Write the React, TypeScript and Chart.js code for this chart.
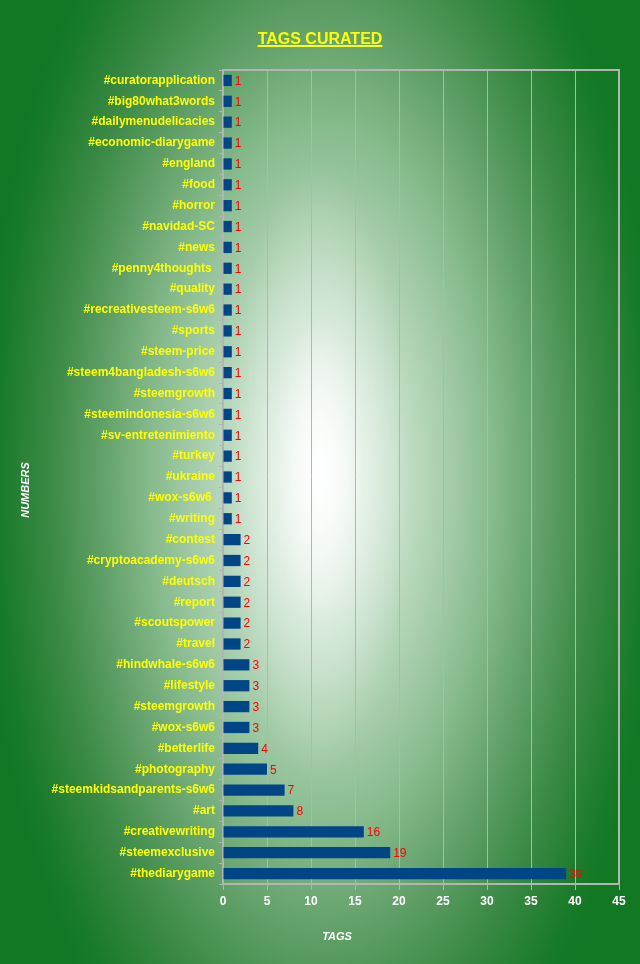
import React, { useEffect, useRef } from "react";
import { Chart, registerables } from "chart.js";

Chart.register(...registerables);

const categories: string[] = [
  "#curatorapplication",
  "#big80what3words",
  "#dailymenudelicacies",
  "#economic-diarygame",
  "#england",
  "#food",
  "#horror",
  "#navidad-SC",
  "#news",
  "#penny4thoughts ",
  "#quality",
  "#recreativesteem-s6w6",
  "#sports",
  "#steem-price",
  "#steem4bangladesh-s6w6",
  "#steemgrowth",
  "#steemindonesia-s6w6",
  "#sv-entretenimiento",
  "#turkey",
  "#ukraine",
  "#wox-s6w6 ",
  "#writing",
  "#contest",
  "#cryptoacademy-s6w6",
  "#deutsch",
  "#report",
  "#scoutspower",
  "#travel",
  "#hindwhale-s6w6",
  "#lifestyle",
  "#steemgrowth",
  "#wox-s6w6",
  "#betterlife",
  "#photography",
  "#steemkidsandparents-s6w6",
  "#art",
  "#creativewriting",
  "#steemexclusive",
  "#thediarygame",
];

const values: number[] = [
  1, 1, 1, 1, 1, 1, 1, 1, 1, 1, 1, 1, 1, 1, 1, 1, 1, 1, 1, 1, 1, 1,
  2, 2, 2, 2, 2, 2,
  3, 3, 3, 3,
  4, 5, 7, 8, 16, 19, 39,
];

const xTicks: number[] = [0, 5, 10, 15, 20, 25, 30, 35, 40, 45];

const chartTitle = "TAGS CURATED";
const xTitle = "TAGS";
const yTitle = "NUMBERS";

const FONT = "'Liberation Sans', Arial, sans-serif";

const bgPlugin = {
  id: "bgPlugin",
  beforeDraw(chart: any) {
    const { ctx, width, height } = chart;
    ctx.save();
    ctx.fillStyle = "#127824";
    ctx.fillRect(0, 0, width, height);

    // outer elliptical gradient
    const cx = 322;
    const cy = 478;
    const r = 345;
    const sy = 2.05;
    ctx.save();
    ctx.translate(cx, cy);
    ctx.scale(1, sy);
    const g = ctx.createRadialGradient(0, 0, 0, 0, 0, r);
    g.addColorStop(0, "#eef6ef");
    g.addColorStop(0.15, "#d6e9d9");
    g.addColorStop(0.35, "#a9cfae");
    g.addColorStop(0.5, "#86ba8c");
    g.addColorStop(0.65, "#5f9f66");
    g.addColorStop(0.8, "#388843");
    g.addColorStop(0.95, "#167a27");
    g.addColorStop(1, "#127824");
    ctx.fillStyle = g;
    ctx.fillRect(-cx, -cy / sy, width, height / sy);
    ctx.restore();

    // soft tall white core
    const hx = 319;
    const hy = 472;
    const hr = 90;
    const hsy = 3.4;
    ctx.save();
    ctx.translate(hx, hy);
    ctx.scale(1, hsy);
    const h = ctx.createRadialGradient(0, 0, 0, 0, 0, hr);
    h.addColorStop(0, "rgba(255,255,255,1)");
    h.addColorStop(0.2, "rgba(255,255,255,0.75)");
    h.addColorStop(0.5, "rgba(255,255,255,0.3)");
    h.addColorStop(1, "rgba(255,255,255,0)");
    ctx.fillStyle = h;
    ctx.fillRect(-hr, -hr, hr * 2, hr * 2);
    ctx.restore();

    ctx.restore();
  },
};

const framePlugin = {
  id: "framePlugin",
  beforeDatasetsDraw(chart: any) {
    const { ctx, chartArea } = chart;
    ctx.save();
    ctx.strokeStyle = "#b4b4b4";
    ctx.lineWidth = 2;
    ctx.beginPath();
    ctx.moveTo(chartArea.left, chartArea.top);
    ctx.lineTo(chartArea.right, chartArea.top);
    ctx.lineTo(chartArea.right, chartArea.bottom);
    ctx.stroke();
    ctx.restore();
  },
  afterDatasetsDraw(chart: any) {
    const { ctx } = chart;
    const meta = chart.getDatasetMeta(0);
    const data = chart.data.datasets[0].data as number[];
    ctx.save();
    ctx.fillStyle = "#ff0000";
    ctx.font = `12px ${FONT}`;
    ctx.textAlign = "left";
    ctx.textBaseline = "middle";
    meta.data.forEach((bar: any, i: number) => {
      ctx.fillText(String(data[i]), bar.x + 3, bar.y + 1);
    });
    ctx.restore();
  },
  afterDraw(chart: any) {
    const { ctx, width } = chart;
    ctx.save();
    // chart title
    ctx.font = `bold 16px ${FONT}`;
    ctx.fillStyle = "#ffff00";
    ctx.textAlign = "center";
    ctx.textBaseline = "alphabetic";
    const cx = width / 2;
    ctx.fillText(chartTitle, cx, 44);
    const w = ctx.measureText(chartTitle).width;
    ctx.fillRect(cx - w / 2, 45, w, 2);
    // axis titles
    ctx.fillStyle = "#ffffff";
    ctx.font = `italic bold 11px ${FONT}`;
    ctx.textBaseline = "middle";
    ctx.fillText(xTitle, 337, 937);
    ctx.translate(26, 490);
    ctx.rotate(-Math.PI / 2);
    ctx.fillText(yTitle, 0, 0);
    ctx.restore();
  },
};

export default function App() {
  const ref = useRef<HTMLCanvasElement | null>(null);

  useEffect(() => {
    if (!ref.current) return;
    Chart.defaults.font.family = FONT;
    const chart = new Chart(ref.current, {
      type: "bar",
      data: {
        labels: categories,
        datasets: [
          {
            data: values,
            backgroundColor: "#004586",
            borderColor: "#004586",
            borderWidth: 0,
            categoryPercentage: 1,
            barPercentage: 0.54,
          },
        ],
      },
      options: {
        indexAxis: "y",
        animation: false,
        responsive: false,
        layout: { padding: { top: 70, left: 0, right: 21, bottom: 0 } },
        plugins: {
          legend: { display: false },
          tooltip: { enabled: false },
          title: { display: false },
        },
        scales: {
          x: {
            type: "linear",
            min: 0,
            max: 45,
            afterBuildTicks(scale: any) {
              scale.ticks = xTicks.map((v) => ({ value: v }));
            },
            afterFit(scale: any) {
              scale.height = 80;
            },
            ticks: {
              color: "#ffffff",
              font: { size: 12, weight: "bold", family: FONT },
              padding: 4,
            },
            grid: {
              color: "#b4b4b4",
              lineWidth: 1,
              drawTicks: true,
              tickLength: 6,
              tickColor: "#b4b4b4",
            },
            border: { display: true, color: "#b4b4b4", width: 2 },
          },
          y: {
            type: "category",
            afterFit(scale: any) {
              scale.width = 223;
            },
            ticks: {
              color: "#ffff00",
              font: { size: 12, weight: "bold", family: FONT },
              padding: 4,
              autoSkip: false,
            },
            grid: {
              drawOnChartArea: false,
              drawTicks: true,
              tickLength: 4,
              color: "#b4b4b4",
              tickColor: "#b4b4b4",
            },
            border: { display: true, color: "#b4b4b4", width: 2 },
          },
        },
      },
      plugins: [bgPlugin, framePlugin],
    });
    return () => chart.destroy();
  }, []);

  return (
    <div style={{ position: "absolute", left: 0, top: 0, width: 640, height: 964 }}>
      <canvas ref={ref} width={640} height={964} style={{ display: "block" }} />
    </div>
  );
}
